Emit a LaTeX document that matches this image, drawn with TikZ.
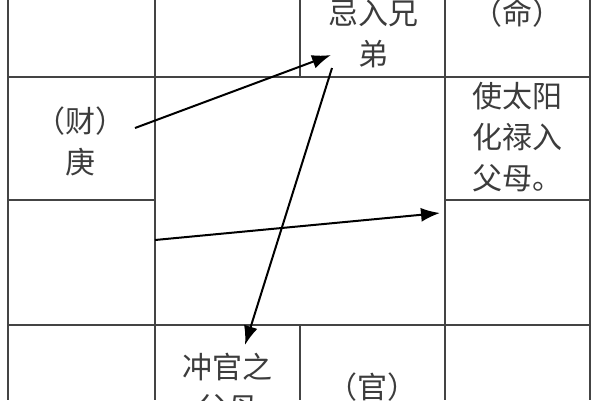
\documentclass[tikz,border=0pt]{standalone}
\usepackage{fontspec}
\newfontfamily\cjk{Noto Sans CJK SC}
\usetikzlibrary{arrows.meta}
\definecolor{gridgray}{HTML}{444444}
\definecolor{txtgray}{HTML}{3C3C3C}

\begin{document}
\begin{tikzpicture}[x=1pt,y=-1pt,>={Latex[length=19pt,width=14pt]},
                    grid/.style={draw=gridgray,line width=1.2pt},
                    palace/.style={font=\cjk\fontsize{30}{41}\selectfont,text=txtgray,
                                   align=center,inner sep=0pt},
                    flow/.style={->,line width=2pt,black}]

  \useasboundingbox (0,0) rectangle (600,400);
  \clip (0,0) rectangle (600,400);
  \fill[white] (0,0) rectangle (600,400);

  % grid of palaces
  \foreach \x in {8,155,445,590} \draw[grid] (\x,0) -- (\x,400);
  \foreach \y in {77,325} \draw[grid] (8,\y) -- (590,\y);
  \draw[grid] (8,200) -- (155,200) (445,200) -- (590,200);
  \draw[grid] (300,0) -- (300,77) (300,325) -- (300,400);

  % palace texts
  \node[palace] (xiongdi) at (373,34)  {忌入兄\\弟};
  \node[palace] (ming)    at (517,13)  {（命）};
  \node[palace] (cai)     at (80,141)  {（财）\\庚};
  \node[palace] (fumu)    at (517,137) {使太阳\\化禄入\\父母。};
  \node[palace] (chong)   at (227,388) {冲官之\\父母};
  \node[palace] (guan)    at (372,387) {（官）};

  % flows
  \coordinate (cai out)     at (135,128);
  \coordinate (xiongdi in)  at (331,55);
  \coordinate (xiongdi out) at (332,68);
  \coordinate (chong in)    at (245,345);
  \coordinate (mid out)     at (155,240);
  \coordinate (fumu in)     at (440,213);

  \draw[flow] (cai out)     -- (xiongdi in);
  \draw[flow] (xiongdi out) -- (chong in);
  \draw[flow] (mid out)     -- (fumu in);
\end{tikzpicture}
\end{document}
